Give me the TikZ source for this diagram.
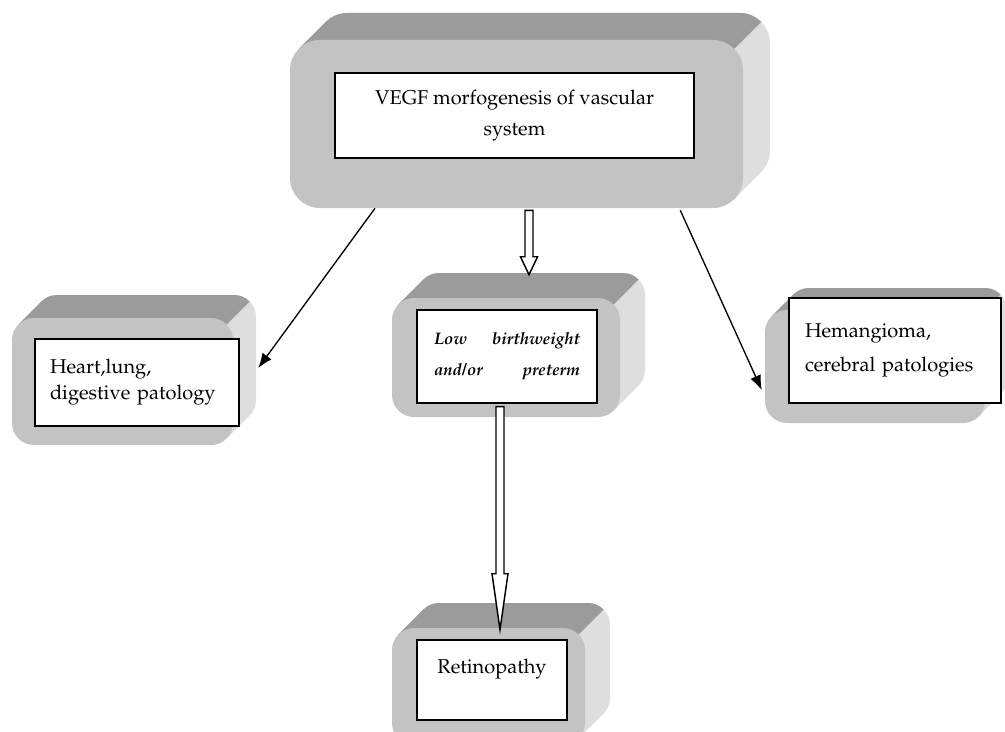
\documentclass[tikz,border=0pt]{standalone}
\usepackage[T1]{fontenc}
\usepackage{mathpazo}
\usetikzlibrary{calc,fit,arrows.meta}

\definecolor{slabtop}{RGB}{155,155,155}
\definecolor{slabface}{RGB}{195,195,195}
\definecolor{slabside}{RGB}{222,222,222}

\tikzset{
  textbox/.style={draw=black,line width=1pt,fill=white,inner sep=0pt,align=left},
  thinarrow/.style={line width=1pt,-{Latex[length=11pt,width=8.5pt]}},
  blockarrow/.style={draw=black,line width=1.1pt,fill=white,line join=miter},
}

% raised grey slab: name, front face x1 y1 x2 y2 (px), depth, corner radius
\newcommand\bevelslab[7]{%
  \fill[slabside,rounded corners={0.75pt*#7}] (#2+#6,#3-#6) rectangle (#4+#6,#5-#6);
  \fill[slabside] (#2+0.293*#7,#3+0.293*#7) -- ++(#6,-#6) -- (#4-0.293*#7+#6,#5-0.293*#7-#6) -- (#4-0.293*#7,#5-0.293*#7) -- cycle;
  \begin{scope}
    \clip (#4+100,#3-100) -- (#4+#3-#5-100,#5+100) -- (#2-100,#5+100) -- (#2-100,#3-100) -- cycle;
    \fill[slabtop,rounded corners={0.75pt*#7}] (#2+#6,#3-#6) rectangle (#4+#6,#5-#6);
    \fill[slabtop] (#2+0.293*#7,#3+0.293*#7) -- ++(#6,-#6) -- (#4-0.293*#7+#6,#5-0.293*#7-#6) -- (#4-0.293*#7,#5-0.293*#7) -- cycle;
  \end{scope}
  \fill[slabface,rounded corners={0.75pt*#7}] (#2,#3) rectangle (#4,#5);
  \node[fit={(#2,#3) (#4,#5)},inner sep=0pt] (#1) {};
}

% hollow block arrow: from, to, shaft half width, head half width, head length
\newcommand\hollowarrow[5]{%
  \draw[blockarrow] let \p1=(#1), \p2=(#2) in
    (\x1-#3,\y1) -- (\x1-#3,\y2+#5) -- (\x1-#4,\y2+#5) -- (\x1,\y2)
    -- (\x1+#4,\y2+#5) -- (\x1+#3,\y2+#5) -- (\x1+#3,\y1) -- cycle;
}

\begin{document}
\begin{tikzpicture}[x=0.75pt,y=-0.75pt]
  \useasboundingbox (0,0) rectangle (1005,731);
  \clip (0,0) rectangle (1005,731);

  % slabs
  \bevelslab{topslab}{290}{40}{743}{208}{27}{30}
  \bevelslab{heartslab}{12}{318}{233}{445}{23}{22}
  \bevelslab{lbwslab}{392}{298}{620}{417}{25}{22}
  \bevelslab{hemslab}{765}{310}{985}{423}{22}{22}
  \bevelslab{retslab}{392}{628}{585}{745}{25}{22}

  % text boxes
  \node[textbox,minimum width=269.25pt,minimum height=63.75pt,align=center,
        font=\fontsize{15}{23}\selectfont] (vegf) at (514.5,115.5)
        {VEGF morfogenesis of vascular\\system};
  \node[textbox,minimum width=153pt,minimum height=65.25pt,text width=130.5pt,
        font=\fontsize{15}{19.5}\selectfont] (heart) at (137,382.5)
        {Heart,lung,\\digestive patology};
  \node[textbox,minimum width=135pt,minimum height=69.75pt,text width=109.5pt,
        font=\fontsize{12.5}{23}\selectfont\bfseries\itshape] (lbw) at (507,356.5)
        {Low\hfill birthweight\\and/or\hfill preterm};
  \node[textbox,minimum width=159pt,minimum height=78.75pt,text width=135pt,
        font=\fontsize{15}{26}\selectfont] (hem) at (895,350.5)
        {Hemangioma,\\cerebral patologies};
  \node[textbox,minimum width=112.5pt,minimum height=60pt,text height=11pt,
        text depth=21.5pt,align=center,font=\fontsize{15}{23}\selectfont] (retino) at (492,680)
        {Retinopathy};

  % connectors
  \draw[thinarrow] ($(topslab.south west)!0.188!(topslab.south east)$) -- ($(heartslab.east)+(25,-13.5)$);
  \draw[thinarrow] ($(topslab.south east)+(-63,2)$) -- ($(hemslab.west)+(-3,23.5)$);

  \coordinate (lbwtop) at ($(topslab.south)+(12.5,2)$);
  \coordinate (lbwtip) at ($(lbwtop |- lbwslab.north)+(0,-23)$);
  \hollowarrow{lbwtop}{lbwtip}{3pt}{6.4pt}{13.5pt}

  \coordinate (rettop) at ($(lbw.south)+(-7,3)$);
  \coordinate (rettip) at ($(rettop |- retslab.north)+(0,2)$);
  \hollowarrow{rettop}{rettip}{3pt}{6pt}{42pt}
\end{tikzpicture}
\end{document}
